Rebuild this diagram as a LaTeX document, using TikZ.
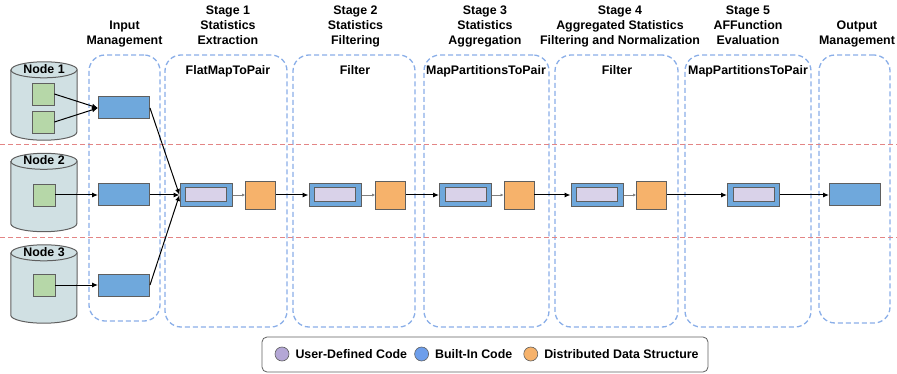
\documentclass[tikz,border=0pt]{standalone}
\usepackage{fontspec}
\setmainfont{Liberation Sans}
\usetikzlibrary{positioning, arrows.meta}

\definecolor{dashblue}{HTML}{8AAEE8}
\definecolor{sepred}{HTML}{E38585}
\definecolor{builtinblue}{HTML}{6FA8DC}
\definecolor{userlav}{HTML}{D9D2E9}
\definecolor{ddsorange}{HTML}{F6B26B}
\definecolor{recgreen}{HTML}{B6D7A8}
\definecolor{storefill}{HTML}{D0E0E3}
\definecolor{edgegray}{HTML}{5F5F5F}
\definecolor{legpurple}{HTML}{B4A7D6}
\definecolor{legblue}{HTML}{6D9EEB}

\begin{document}
\begin{tikzpicture}[x=1pt, y=-1pt, >={Latex[length=6pt,width=5pt]},
  font=\fontsize{12.4}{15}\selectfont\bfseries,
  stagebox/.style={draw=dashblue, line width=1.3pt, dash pattern=on 5pt off 3pt,
    rounded corners=16pt, inner sep=0pt},
  title/.style={anchor=south, align=center, inner sep=0pt, text depth=3pt},
  sub/.style={anchor=base, inner sep=0pt},
  store/.style={minimum width=66pt, minimum height=78pt, inner sep=0pt},
  cyl/.style={draw=edgegray, fill=storefill, line width=1pt, line join=round},
  record/.style={draw=edgegray, fill=recgreen, line width=0.8pt,
    minimum size=22pt, inner sep=0pt},
  builtin/.style={draw=edgegray, fill=builtinblue, line width=1pt,
    minimum width=51pt, minimum height=22pt, inner sep=0pt},
  userdef/.style={draw=edgegray, fill=userlav, line width=1pt,
    minimum width=41pt, minimum height=14pt, inner sep=0pt},
  dds/.style={draw=edgegray, fill=ddsorange, line width=0.8pt,
    minimum width=30pt, minimum height=28pt, inner sep=0pt},
  flow/.style={->, line width=1pt},
  hop/.style={-{Latex[length=3pt,width=3pt]}, line width=0.7pt, gray},
  dot/.style={circle, draw=edgegray, line width=0.6pt, minimum size=14pt, inner sep=0pt},
  legtext/.style={inner sep=0pt, anchor=west}
]

  \useasboundingbox (0,0) rectangle (897,374);

  % --- POSITIONS ---
  \def\yA{108}   % row of node 1
  \def\yB{195}   % row of node 2
  \def\yC{285}   % row of node 3
  \def\ry{8pt}   % half height of the cylinder caps

  % --- COLUMNS (dashed boxes) ---
  \node[stagebox, minimum width=71pt, minimum height=266pt] (bIn) at (124.5,188) {};
  \node[stagebox, minimum width=122pt, minimum height=272pt] (bS1) at (226,191) {};
  \node[stagebox, minimum width=122pt, minimum height=272pt] (bS2) at (354,191) {};
  \node[stagebox, minimum width=125pt, minimum height=272pt] (bS3) at (486.5,191) {};
  \node[stagebox, minimum width=123pt, minimum height=272pt] (bS4) at (616.5,191) {};
  \node[stagebox, minimum width=126pt, minimum height=272pt] (bS5) at (748,191) {};
  \node[stagebox, minimum width=71pt, minimum height=268pt] (bOut) at (854.5,189) {};

  % --- TITLES ---
  \node[title] (tIn) at (124.5,47.5) {Input\\Management};
  \node[title] (tS1) at (228,47.5) {Stage 1\\Statistics\\Extraction};
  \node[title] (tS2) at (355.5,47.5) {Stage 2\\Statistics\\Filtering};
  \node[title] (tS3) at (485,47.5) {Stage 3\\Statistics\\Aggregation};
  \node[title] (tS4) at (620,47.5) {Stage 4\\Aggregated Statistics\\Filtering and Normalization};
  \node[title] (tS5) at (748,47.5) {Stage 5\\AFFunction\\Evaluation};
  \node[title] (tOut) at (857,47.5) {Output\\Management};

  % --- OPERATORS ---
  \node[sub] (oS1) at (228,74.5) {FlatMapToPair};
  \node[sub] (oS2) at (355,74.5) {Filter};
  \node[sub] (oS3) at (486,74.5) {MapPartitionsToPair};
  \node[sub] (oS4) at (617,74.5) {Filter};
  \node[sub] (oS5) at (748,74.5) {MapPartitionsToPair};

  % --- ROW SEPARATORS ---
  \foreach \y [count=\i] in {145, 238} {
    \coordinate (sepL\i) at (0,\y);
    \coordinate (sepR\i) at (897,\y);
    \draw[sepred, line width=1pt, dash pattern=on 5pt off 3pt] (sepL\i) -- (sepR\i);
  }

  % --- STORAGE NODES ---
  \node[store] (n1) at (44,101) {};
  \node[store] (n2) at (44,192.5) {};
  \node[store] (n3) at (44,284) {};
  \foreach \n in {n1, n2, n3} {
    \draw[cyl] ([yshift=-\ry]\n.north west) -- ([yshift=\ry]\n.south west)
      arc[start angle=180, end angle=360, x radius=33pt, y radius=\ry]
      -- ([yshift=-\ry]\n.north east)
      arc[start angle=0, end angle=180, x radius=33pt, y radius=\ry] -- cycle;
    \draw[cyl, fill=none] ([yshift=-\ry]\n.north west)
      arc[start angle=180, end angle=360, x radius=33pt, y radius=\ry];
  }
  \foreach \i/\y in {1/73.5, 2/164.5, 3/256.5} {
    \node[sub] (ln\i) at (44,\y) {Node \i};
  }

  % records
  \node[record] (r1a) at (43,94) {};
  \node[record] (r1b) at (43,122) {};
  \node[record] (r2) at (44,\yB) {};
  \node[record] (r3) at (44,\yC) {};

  % --- INPUT MANAGEMENT ---
  \node[builtin] (in1) at (124,\yA) {};
  \node[builtin] (in2) at (124,\yB) {};
  \node[builtin] (in3) at (124,\yC) {};

  \draw[flow] (r1a.east) -- (in1.west);
  \draw[flow] (r1b.east) -- (in1.west);
  \draw[flow] (r2.east) -- (in2.west);
  \draw[flow] (r3.east) -- (in3.west);

  % --- STAGES (built-in wrapper with user code inside) ---
  \foreach \s/\x in {1/206, 2/335, 3/465.5, 4/597, 5/753.5} {
    \node[builtin, minimum width=52pt, minimum height=23pt] (s\s) at (\x,\yB) {};
    \node[userdef] (u\s) at (\x,\yB) {};
  }

  % distributed data structures
  \foreach \s/\x in {1/260.5, 2/390.5, 3/519, 4/651.5} {
    \node[dds] (d\s) at (\x,\yB) {};
  }

  % --- OUTPUT ---
  \node[builtin] (out) at (855,\yB) {};

  % --- CONNECTIONS ---
  \foreach \i in {1,2,3} {
    \draw[flow] (in\i.east) -- (s1.west);
  }
  \foreach \s in {1,2,3,4} {
    \draw[hop] (s\s) -- (d\s);
  }
  \draw[flow] (d1) -- (s2);
  \draw[flow] (d2) -- (s3);
  \draw[flow] (d3) -- (s4);
  \draw[flow] (d4) -- (s5);
  \draw[flow] (s5) -- (out);

  % --- LEGEND ---
  \node[draw=edgegray, line width=0.8pt, rounded corners=5pt,
    minimum width=446pt, minimum height=35pt] (leg) at (485,354.5) {};
  \node[dot, fill=legpurple] (kUser) at (282,354) {};
  \node[legtext, right=6pt of kUser] (tUser) {User-Defined Code};
  \node[dot, fill=legblue, right=7pt of tUser] (kBuilt) {};
  \node[legtext, right=6pt of kBuilt] (tBuilt) {Built-In Code};
  \node[dot, fill=ddsorange, right=11pt of tBuilt] (kDds) {};
  \node[legtext, right=6pt of kDds] (tDds) {Distributed Data Structure};

\end{tikzpicture}
\end{document}
